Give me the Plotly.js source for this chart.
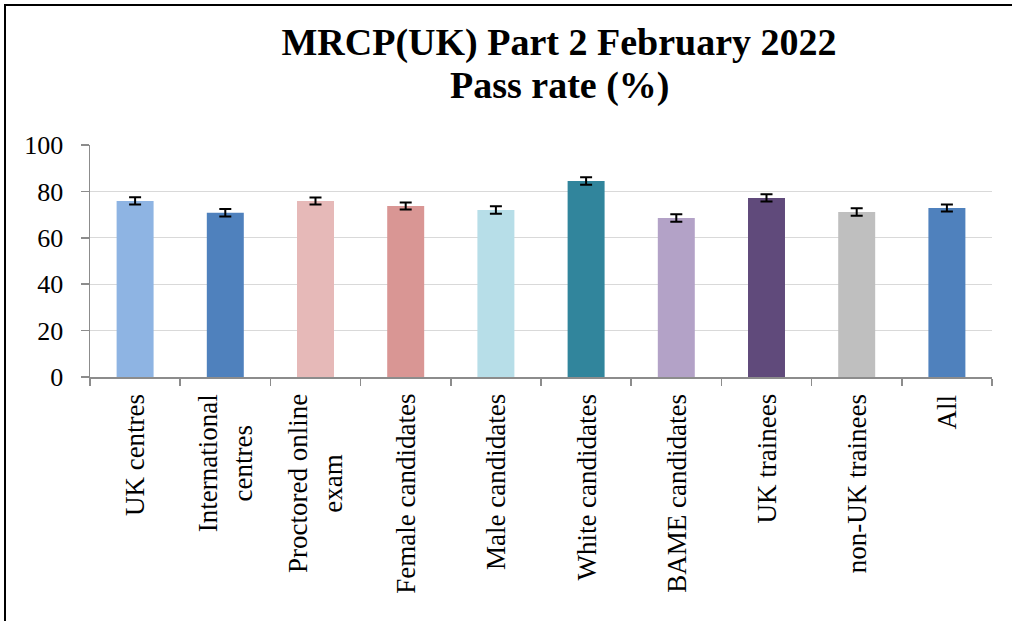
<!DOCTYPE html>
<html>
<head>
<meta charset="utf-8">
<script src="https://cdn.plot.ly/plotly-3.0.1.min.js"></script>
<style>
html,body{margin:0;padding:0;background:#fff;}
#wrap{position:relative;width:1012px;height:621px;overflow:hidden;}
#chart{position:absolute;left:0;top:0;width:1012px;height:621px;}
.bl{position:absolute;background:#000;}
</style>
</head>
<body>
<div id="wrap">
<div id="chart"></div>
<div class="bl" style="left:4px;top:4px;width:2px;height:617px;"></div>
<div class="bl" style="left:4px;top:4px;width:1008px;height:2px;"></div>
</div>
<script>
const categories = ["UK centres", "International<br>centres", "Proctored online<br>exam", "Female candidates", "Male candidates", "White candidates", "BAME candidates", "UK trainees", "non-UK trainees", "All"];
const passRate = [75.9, 70.8, 75.9, 73.7, 72.0, 84.5, 68.5, 77.2, 71.1, 72.8];
const errorMargin = [1.6, 1.6, 1.5, 1.5, 1.6, 1.6, 1.6, 1.6, 1.6, 1.5];
const barColors = ["#8EB4E3", "#4F81BD", "#E6B9B8", "#D99694", "#B7DEE8", "#31859C", "#B3A2C7", "#604A7B", "#BFBFBF", "#4F81BD"];
const yTicks = [0, 20, 40, 60, 80, 100];

const serif = "Liberation Serif, Times New Roman, serif";

const trace = {
  type: "bar",
  x: categories,
  y: passRate,
  marker: {color: barColors, line: {width: 0}},
  width: 0.41,
  error_y: {type: "data", array: errorMargin, visible: true, color: "#000", thickness: 2, width: 6},
  hoverinfo: "x+y"
};

const catLabels = categories.map(c => ({
  text: c,
  xref: "x", yref: "y",
  x: c, y: 0,
  yshift: -15,
  xanchor: "center", yanchor: "top",
  textangle: -90,
  align: "center",
  showarrow: false,
  font: {family: serif, size: 27, color: "#000"}
}));

const layout = {
  width: 1012, height: 621,
  margin: {l: 90, r: 20, t: 145, b: 244},
  paper_bgcolor: "#fff", plot_bgcolor: "#fff",
  showlegend: false,
  title: {
    text: "<b>MRCP(UK) Part 2 February 2022</b>",
    font: {family: serif, size: 38, color: "#000"},
    x: 559/1012, xanchor: "center", xref: "container",
    y: 1 - 55/621, yanchor: "bottom", yref: "container"
  },
  annotations: [{
    text: "<b>Pass rate (%)</b>",
    font: {family: serif, size: 38, color: "#000"},
    xref: "paper", yref: "paper",
    x: (559-90)/(992-90), y: (377-109)/232, xanchor: "center", yanchor: "bottom",
    showarrow: false
  }].concat(catLabels),
  xaxis: {
    type: "category",
    categoryarray: categories,
    range: [-0.5, 9.5],
    showline: true, linecolor: "#8C8C8C", linewidth: 1.5,
    ticks: "outside", ticklen: 7, tickcolor: "#8C8C8C", tickwidth: 1.5,
    tickson: "boundaries",
    showticklabels: false,
    showgrid: false
  },
  yaxis: {
    range: [0, 100],
    tickvals: yTicks,
    ticktext: yTicks.map(String),
    showline: true, linecolor: "#8C8C8C", linewidth: 1.5,
    ticks: "outside", ticklen: 8, tickcolor: "#8C8C8C", tickwidth: 1.5,
    tickfont: {family: serif, size: 26, color: "#000"},
    showgrid: true, gridcolor: "#D9D9D9", gridwidth: 1,
    zeroline: false,
    ticklabelstandoff: 12
  }
};

Plotly.newPlot("chart", [trace], layout, {displayModeBar: false, staticPlot: true});
</script>
</body>
</html>
